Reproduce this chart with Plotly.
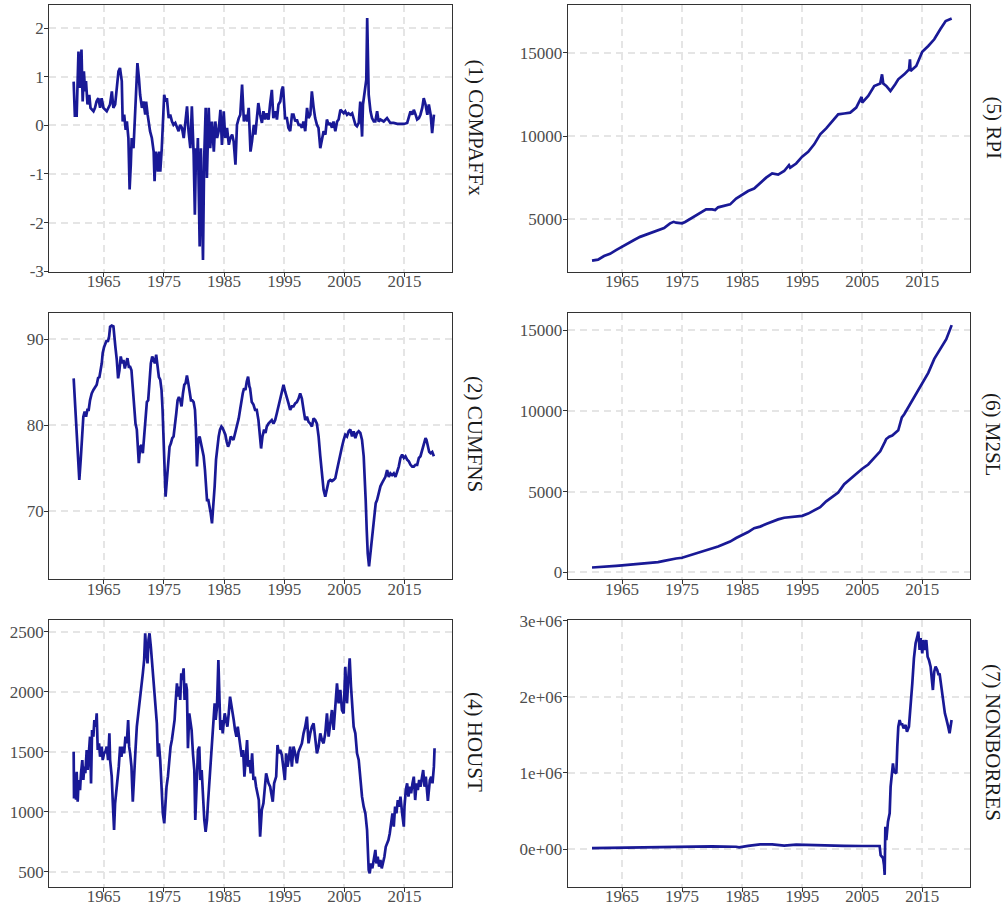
import plotly.graph_objects as go

# ---------------- data ----------------
compaffx_year = [1960.0, 1960.2, 1960.5, 1960.8, 1961.05, 1961.3, 1961.5, 1961.7, 1961.9, 1962.05, 1962.3, 1962.6, 1962.8,
                 1963.3, 1963.55, 1963.8, 1964.1, 1964.4, 1964.65, 1964.95, 1965.5, 1966.05, 1966.35, 1966.6, 1966.9,
                 1967.15, 1967.45, 1967.7, 1968.0, 1968.15, 1968.4, 1968.65, 1968.85, 1969.1, 1969.3, 1969.5, 1969.65,
                 1969.95, 1970.2, 1970.4, 1970.6, 1970.85, 1971.05, 1971.35, 1971.6, 1971.9, 1972.05, 1972.3, 1972.45,
                 1972.7, 1973.0, 1973.3, 1973.45, 1973.65, 1973.85, 1974.0, 1974.2, 1974.4, 1974.65, 1974.85, 1975.05,
                 1975.3, 1975.5, 1975.8, 1976.05, 1976.35, 1976.6, 1976.9, 1977.15, 1977.45, 1977.7, 1978.0, 1978.3,
                 1978.55, 1978.85, 1979.1, 1979.4, 1979.65, 1979.95, 1980.15, 1980.35, 1980.5, 1980.65, 1980.95, 1981.15,
                 1981.5, 1981.7, 1981.95, 1982.15, 1982.45, 1982.7, 1983.0, 1983.3, 1983.55, 1983.85, 1984.1, 1984.4,
                 1984.65, 1984.95, 1985.2, 1985.5, 1985.8, 1986.05, 1986.35, 1986.6, 1986.9, 1987.15, 1987.45, 1987.7,
                 1988.0, 1988.3, 1988.55, 1988.85, 1989.1, 1989.4, 1989.65, 1989.95, 1990.2, 1990.45, 1990.7, 1991.0,
                 1991.3, 1991.55, 1991.85, 1992.1, 1992.4, 1992.65, 1992.95, 1993.2, 1993.5, 1993.8, 1994.05, 1994.35,
                 1994.6, 1994.8, 1995.0, 1995.15, 1995.45, 1995.7, 1996.0, 1996.3, 1996.55, 1996.85, 1997.1, 1997.4,
                 1997.65, 1997.95, 1998.2, 1998.5, 1998.8, 1999.05, 1999.35, 1999.6, 1999.9, 2000.15, 2000.45, 2000.7,
                 2001.0, 2001.3, 2001.55, 2001.85, 2002.1, 2002.4, 2002.65, 2002.95, 2003.2, 2003.5, 2003.8, 2004.05,
                 2004.35, 2004.6, 2004.9, 2005.15, 2005.45, 2005.7, 2006.0, 2006.3, 2006.55, 2006.85, 2007.1, 2007.4,
                 2007.65, 2007.95, 2008.1, 2008.35, 2008.5, 2008.65, 2008.8, 2008.9, 2009.05, 2009.35, 2009.6, 2009.9,
                 2010.15, 2010.45, 2010.7, 2011.0, 2011.55, 2012.1, 2012.65, 2013.2, 2013.8, 2014.35, 2014.9, 2015.45,
                 2015.7, 2016.0, 2016.3, 2016.55, 2016.85, 2017.1, 2017.4, 2017.65, 2017.95, 2018.2, 2018.5, 2018.8,
                 2019.05, 2019.35, 2019.6, 2019.9]
compaffx_val = [0.90, 0.20, 0.20, 1.52, 0.77, 1.56, 0.49, 1.11, 0.70, 0.91, 0.43, 0.63, 0.36,
                0.29, 0.36, 0.49, 0.56, 0.36, 0.56, 0.36, 0.29, 0.43, 0.70, 0.36, 0.43,
                0.70, 1.11, 1.18, 0.91, 0.08, 0.22, -0.09, 0.08, -0.26, -1.32, -0.81, -0.26,
                -0.47, 0.22, 0.63, 1.28, 0.97, 0.63, 0.36, 0.49, 0.22, 0.49, 0.22, 0.08,
                -0.12, -0.26, -0.54, -1.15, -0.54, -0.67, -0.95, -0.54, -0.95, -0.47, 0.22, 0.63,
                0.49, 0.56, 0.15, 0.22, 0.08, 0.01, 0.05, -0.05, -0.12, 0.01, -0.05, -0.26,
                0.01, 0.39, -0.12, -0.47, 0.39, -0.60, -1.84, -0.47, -0.81, -0.26, -2.49, -0.47,
                -2.77, -0.67, 0.36, -1.08, 0.36, -0.47, 0.08, -0.54, 0.08, -0.26, -0.12, 0.32,
                -0.40, 0.29, -0.26, -0.05, -0.40, -0.26, -0.19, -0.33, -0.81, 0.01, 0.15, 0.22,
                0.84, 0.08, 0.22, 0.08, 0.36, -0.54, -0.33, 0.01, -0.19, 0.15, 0.46, 0.22,
                0.05, 0.29, 0.12, 0.25, 0.12, 0.43, 0.73, 0.15, 0.29, 0.12, 0.43, 0.49,
                0.73, 0.80, 0.29, 0.15, 0.15, -0.05, -0.12, 0.22, 0.22, 0.08, 0.12, 0.01,
                0.01, -0.05, 0.08, -0.12, 0.36, 0.15, 0.22, 0.70, 0.36, 0.15, 0.01, -0.05,
                -0.47, -0.26, -0.12, -0.19, 0.12, 0.01, 0.05, -0.05, 0.08, -0.12, 0.08, 0.12,
                0.32, 0.29, 0.25, 0.29, 0.22, 0.25, 0.22, 0.25, 0.12, 0.01, -0.02, 0.05,
                0.49, -0.23, 0.43, 0.70, 0.77, 0.94, 2.21, 0.97, 0.63, 0.29, 0.15, 0.08,
                0.08, 0.29, 0.08, 0.12, 0.08, 0.15, 0.05, 0.05, 0.03, 0.03, 0.03, 0.05,
                0.15, 0.29, 0.22, 0.32, 0.22, 0.12, 0.15, 0.22, 0.36, 0.56, 0.43, 0.22,
                0.43, 0.22, -0.16, 0.22]

cumfns_year = [1960.0, 1960.22, 1960.5, 1960.78, 1960.94, 1961.17, 1961.39, 1961.61, 1961.83, 1962.06, 1962.28,
               1962.5, 1962.72, 1963.0, 1963.28, 1963.56, 1963.83, 1964.06, 1964.28, 1964.67, 1964.83, 1965.06,
               1965.28, 1965.5, 1965.67, 1965.89, 1966.06, 1966.33, 1966.61, 1966.78, 1966.94, 1967.17, 1967.39,
               1967.61, 1967.83, 1968.06, 1968.28, 1968.5, 1968.72, 1968.94, 1969.17, 1969.39, 1969.61, 1969.83,
               1970.06, 1970.28, 1970.5, 1970.67, 1970.83, 1971.06, 1971.28, 1971.5, 1971.72, 1971.94, 1972.17,
               1972.39, 1972.61, 1972.83, 1973.06, 1973.28, 1973.5, 1973.72, 1973.94, 1974.17, 1974.39, 1974.61,
               1974.78, 1974.94, 1975.11, 1975.28, 1975.5, 1975.72, 1975.94, 1976.17, 1976.39, 1976.61, 1976.83,
               1977.06, 1977.28, 1977.5, 1977.72, 1977.94, 1978.17, 1978.39, 1978.61, 1978.83, 1979.06, 1979.28,
               1979.5, 1979.72, 1979.94, 1980.17, 1980.33, 1980.5, 1980.72, 1980.94, 1981.17, 1981.39, 1981.61,
               1981.83, 1982.0, 1982.17, 1982.39, 1982.61, 1982.78, 1983.0, 1983.22, 1983.44, 1983.67, 1983.89,
               1984.11, 1984.33, 1984.56, 1984.78, 1985.0, 1985.22, 1985.44, 1985.67, 1985.89, 1986.11, 1986.33,
               1986.56, 1986.78, 1987.0, 1987.22, 1987.44, 1987.67, 1987.89, 1988.11, 1988.33, 1988.56, 1988.78,
               1989.0, 1989.22, 1989.33, 1989.61, 1989.89, 1990.16, 1990.44, 1990.72, 1991.0, 1991.16, 1991.39,
               1991.66, 1991.89, 1992.11, 1992.39, 1992.66, 1992.94, 1993.22, 1993.5, 1993.78, 1994.05, 1994.33,
               1994.61, 1994.89, 1995.16, 1995.44, 1995.72, 1996.0, 1996.28, 1996.55, 1996.83, 1997.11, 1997.39,
               1997.66, 1997.94, 1998.22, 1998.5, 1998.78, 1999.05, 1999.33, 1999.61, 1999.89, 2000.16, 2000.44,
               2000.72, 2001.0, 2001.28, 2001.55, 2001.83, 2002.11, 2002.39, 2002.66, 2002.94, 2003.22, 2003.5,
               2003.78, 2004.05, 2004.33, 2004.61, 2004.89, 2005.16, 2005.44, 2005.72, 2006.0, 2006.28, 2006.55,
               2006.83, 2007.11, 2007.39, 2007.66, 2007.94, 2008.22, 2008.39, 2008.55, 2008.72, 2008.89, 2009.11,
               2009.33, 2009.55, 2009.78, 2010.0, 2010.22, 2010.44, 2010.72, 2011.0, 2011.28, 2011.55, 2011.83,
               2012.11, 2012.39, 2012.66, 2012.94, 2013.22, 2013.5, 2013.78, 2014.05, 2014.33, 2014.61, 2014.89,
               2015.16, 2015.44, 2015.72, 2016.0, 2016.28, 2016.55, 2016.83, 2017.11, 2017.39, 2017.66, 2017.94,
               2018.22, 2018.5, 2018.66, 2018.89, 2019.11, 2019.33, 2019.61, 2019.89]
cumfns_val = [85.45, 82.55, 78.3, 76.0, 73.65, 75.97, 78.7, 81.0, 81.6, 81.0, 81.8,
              81.8, 82.9, 83.7, 84.1, 84.5, 84.7, 85.5, 85.6, 87.2, 88.4, 89.1,
              89.5, 89.9, 89.7, 90.3, 91.45, 91.6, 91.5, 89.9, 89.1, 87.6, 85.45,
              86.4, 88.0, 87.2, 87.6, 86.6, 87.4, 87.8, 86.8, 86.8, 86.4, 84.1,
              81.8, 80.2, 79.5, 77.5, 75.6, 77.5, 77.7, 76.75, 79.1, 81.4, 82.7,
              82.9, 85.3, 87.2, 88.0, 87.6, 87.2, 88.2, 86.8, 85.6, 85.3, 84.1,
              81.8, 78.3, 73.7, 71.7, 73.65, 76.0, 77.5, 77.9, 78.5, 78.7, 79.85,
              81.4, 82.9, 83.3, 82.9, 82.2, 83.7, 84.7, 84.9, 85.8, 84.9, 83.7,
              82.9, 82.9, 82.7, 81.8, 79.5, 75.2, 78.3, 78.7, 77.9, 77.5, 76.4,
              74.8, 73.3, 71.3, 71.3, 70.6, 69.8, 68.6, 70.6, 72.9, 76.0, 77.5,
              78.7, 79.5, 79.85, 79.65, 79.3, 78.9, 78.1, 77.5, 77.9, 78.7, 78.5,
              78.3, 78.9, 79.5, 79.85, 80.8, 81.8, 82.9, 83.7, 84.3, 84.1, 85.1,
              85.65, 84.5, 84.3, 82.7, 82.4, 81.8, 81.8, 80.6, 78.7, 77.3, 78.7,
              79.5, 79.1, 79.85, 80.2, 80.4, 80.6, 80.2, 80.6, 81.4, 82.2, 82.9,
              83.5, 84.7, 83.9, 83.3, 82.55, 81.8, 82.2, 82.2, 82.55, 82.7, 83.1,
              83.7, 83.1, 81.8, 80.6, 81.0, 80.4, 80.2, 79.85, 80.8, 80.6, 80.2,
              78.7, 76.4, 74.0, 72.5, 71.7, 72.5, 73.5, 73.65, 73.5, 73.65, 73.85,
              74.8, 75.8, 76.4, 77.5, 78.3, 78.9, 78.7, 79.3, 79.5, 78.7, 79.3,
              78.5, 79.1, 79.3, 79.1, 78.3, 76.4, 74.4, 71.3, 67.85, 65.1, 63.6,
              65.1, 66.3, 67.85, 69.8, 70.95, 71.3, 72.1, 72.9, 73.3, 73.65, 74.0,
              74.8, 74.0, 74.4, 74.2, 74.4, 74.0, 74.6, 75.2, 76.2, 76.6, 76.2,
              76.4, 76.0, 75.8, 75.4, 75.2, 75.2, 75.4, 75.4, 76.2, 76.4, 77.1,
              77.9, 78.5, 78.3, 77.7, 76.9, 76.75, 76.9, 76.4]

houst_year = [1960.0, 1960.06, 1960.22, 1960.39, 1960.5, 1960.67, 1960.83, 1961.06, 1961.22, 1961.44, 1961.61,
              1961.78, 1961.94, 1962.17, 1962.33, 1962.5, 1962.72, 1962.89, 1963.06, 1963.28, 1963.44, 1963.67,
              1963.83, 1964.0, 1964.22, 1964.39, 1964.67, 1964.83, 1965.06, 1965.28, 1965.5, 1965.72, 1965.94,
              1966.06, 1966.33, 1966.5, 1966.72, 1966.89, 1967.06, 1967.28, 1967.5, 1967.72, 1967.94, 1968.17,
              1968.39, 1968.61, 1968.83, 1969.06, 1969.22, 1969.39, 1969.61, 1969.83, 1970.06, 1970.28, 1970.5,
              1970.78, 1971.06, 1971.28, 1971.5, 1971.72, 1971.89, 1972.06, 1972.28, 1972.44, 1972.61, 1972.83,
              1973.0, 1973.17, 1973.39, 1973.61, 1973.83, 1974.0, 1974.17, 1974.39, 1974.61, 1974.83, 1975.06,
              1975.22, 1975.44, 1975.67, 1975.89, 1976.11, 1976.33, 1976.56, 1976.78, 1976.94, 1977.17, 1977.33,
              1977.5, 1977.72, 1977.89, 1978.06, 1978.28, 1978.44, 1978.67, 1978.83, 1979.0, 1979.22, 1979.39,
              1979.61, 1979.83, 1980.06, 1980.22, 1980.5, 1980.67, 1980.89, 1981.06, 1981.28, 1981.5, 1981.72,
              1981.94, 1982.17, 1982.33, 1982.56, 1982.72, 1982.94, 1983.11, 1983.28, 1983.44, 1983.61, 1983.83,
              1984.06, 1984.22, 1984.39, 1984.61, 1984.78, 1984.94, 1985.11, 1985.33, 1985.56, 1985.78, 1986.0,
              1986.17, 1986.39, 1986.61, 1986.83, 1987.06, 1987.28, 1987.5, 1987.72, 1987.94, 1988.17, 1988.39,
              1988.61, 1988.83, 1989.0, 1989.22, 1989.44, 1989.67, 1989.89, 1990.11, 1990.33, 1990.56, 1990.78,
              1991.0, 1991.16, 1991.28, 1991.55, 1992.0, 1992.4, 1992.67, 1993.1, 1993.33, 1993.67, 1993.89,
              1994.11, 1994.33, 1994.61, 1994.89, 1995.11, 1995.33, 1995.55, 1995.78, 1996.0, 1996.28, 1996.55,
              1996.83, 1997.11, 1997.39, 1997.67, 1997.94, 1998.22, 1998.5, 1998.78, 1999.05, 1999.33, 1999.61,
              1999.89, 2000.16, 2000.44, 2000.72, 2001.0, 2001.28, 2001.55, 2001.83, 2002.11, 2002.39, 2002.67,
              2002.94, 2003.22, 2003.5, 2003.78, 2004.05, 2004.33, 2004.61, 2004.89, 2005.16, 2005.44, 2005.72,
              2005.89, 2006.11, 2006.33, 2006.55, 2006.83, 2007.11, 2007.39, 2007.66, 2007.94, 2008.22, 2008.5,
              2008.78, 2009.05, 2009.22, 2009.44, 2009.66, 2009.89, 2010.16, 2010.33, 2010.55, 2010.78, 2011.0,
              2011.22, 2011.44, 2011.66, 2011.89, 2012.11, 2012.33, 2012.55, 2012.78, 2013.0, 2013.22, 2013.44,
              2013.66, 2013.89, 2014.11, 2014.33, 2014.61, 2014.89, 2015.0, 2015.22, 2015.44, 2015.66, 2015.89,
              2016.11, 2016.33, 2016.55, 2016.78, 2017.0, 2017.22, 2017.44, 2017.66, 2017.89, 2018.11, 2018.33,
              2018.55, 2018.89, 2019.0, 2019.22, 2019.44, 2019.66, 2019.89, 2020.0]
houst_val = [1500, 1110, 1320, 1100, 1333, 1083, 1264, 1180, 1320, 1430, 1264,
             1375, 1320, 1514, 1347, 1486, 1625, 1236, 1680, 1625, 1764, 1708,
             1820, 1514, 1570, 1458, 1542, 1430, 1486, 1500, 1542, 1430, 1653,
             1430, 1292, 1083, 847, 1070, 1153, 1320, 1375, 1542, 1458, 1542,
             1486, 1625, 1570, 1764, 1542, 1486, 1375, 1083, 1347, 1514, 1708,
             1820, 1958, 2042, 2153, 2264, 2486, 2347, 2236, 2431, 2486, 2375,
             2264, 2125, 2042, 1875, 1736, 1458, 1570, 1430, 1153, 986, 903,
             1042, 1208, 1292, 1430, 1542, 1597, 1708, 1764, 1903, 2069, 1958,
             2042, 1931, 2153, 2097, 2194, 1931, 2069, 2014, 1528, 1819, 1736,
             1680, 1486, 1347, 931, 1319, 1514, 1542, 1264, 1347, 1125, 931,
             833, 931, 1070, 1264, 1403, 1542, 1680, 1819, 1903, 1764, 1875,
             2264, 1819, 1680, 1764, 1653, 1736, 1819, 1764, 1708, 1819, 1958,
             1903, 1847, 1764, 1680, 1625, 1708, 1597, 1542, 1458, 1514, 1292,
             1486, 1597, 1375, 1430, 1319, 1486, 1264, 1292, 1208, 1153, 1097,
             792, 986, 1014, 1069, 1319, 1236, 1208, 1083, 1236, 1292, 1556,
             1486, 1514, 1472, 1319, 1264, 1486, 1375, 1444, 1542, 1375, 1542,
             1486, 1403, 1500, 1542, 1569, 1653, 1708, 1792, 1569, 1653, 1708,
             1736, 1625, 1486, 1542, 1653, 1597, 1569, 1653, 1819, 1625, 1764,
             1847, 1681, 1875, 2069, 1903, 2014, 1847, 1819, 2208, 1903, 2153,
             2278, 2042, 1875, 1708, 1653, 1486, 1431, 1264, 1125, 1042, 986,
             847, 514, 486, 569, 528, 597, 681, 569, 625, 542, 597,
             528, 569, 625, 708, 736, 764, 819, 931, 986, 875, 1042,
             986, 1097, 1042, 1125, 986, 875, 1042, 1181, 1236, 1125, 1208,
             1153, 1236, 1292, 1097, 1236, 1181, 1264, 1208, 1292, 1347, 1208,
             1292, 1090, 1181, 1264, 1292, 1236, 1375, 1528]

rpi_year = [1960.0, 1960.5, 1961.0, 1962.0, 1963.0, 1964.0, 1965.0, 1966.0, 1967.0, 1968.0, 1969.0, 1970.0,
            1971.0, 1972.0, 1973.0, 1973.6, 1974.0, 1975.0, 1975.5, 1976.0, 1977.0, 1978.0, 1979.0, 1980.0,
            1980.5, 1981.0, 1982.0, 1983.0, 1984.0, 1985.0, 1986.0, 1987.0, 1988.0, 1989.0, 1990.0, 1991.0,
            1992.0, 1992.8, 1993.0, 1994.0, 1995.0, 1996.0, 1997.0, 1998.0, 1999.0, 2000.0, 2001.0, 2002.0,
            2003.0, 2004.0, 2004.9, 2005.0, 2006.0, 2007.0, 2008.0, 2008.3, 2008.5, 2009.0, 2009.7, 2010.5,
            2011.0, 2012.0, 2012.8, 2012.95, 2013.05, 2014.0, 2015.0, 2016.0, 2017.0, 2018.0, 2018.9, 2019.9]
rpi_val = [2520, 2540, 2580, 2800, 2930, 3150, 3360, 3600, 3760, 3950, 4080, 4200,
           4330, 4480, 4760, 4850, 4800, 4760, 4840, 4950, 5120, 5380, 5600, 5600,
           5560, 5720, 5820, 5900, 6250, 6500, 6700, 6850, 7180, 7500, 7750, 7680,
           7900, 8250, 8100, 8350, 8760, 9050, 9500, 10100, 10460, 10900, 11300, 11350,
           11400, 11700, 12350, 12000, 12400, 13000, 13150, 13700, 13150, 13000, 12700, 13100,
           13400, 13700, 14000, 14600, 13900, 14200, 15050, 15400, 15800, 16400, 16900, 17050]

m2sl_year = [1960, 1961, 1962, 1963, 1964, 1965, 1966, 1967, 1968, 1969, 1970, 1971, 1972, 1973, 1974,
             1975, 1976, 1977, 1978, 1979, 1980, 1981, 1982, 1983, 1984, 1985, 1986, 1987, 1988, 1989,
             1990, 1991, 1992, 1993, 1994, 1995, 1996, 1997, 1998, 1999, 2000, 2001, 2002, 2003, 2004,
             2005, 2006, 2007, 2008, 2008.8, 2009, 2009.5, 2010, 2011, 2011.6, 2012, 2013, 2014, 2015,
             2016, 2017, 2018, 2019, 2019.9]
m2sl_val = [298, 312, 335, 365, 392, 424, 459, 480, 525, 567, 589, 628, 710, 802, 856,
            902, 1016, 1152, 1270, 1366, 1474, 1600, 1756, 1906, 2124, 2307, 2494, 2735, 2832, 2993,
            3157, 3280, 3380, 3410, 3480, 3500, 3640, 3820, 4040, 4400, 4650, 4940, 5460, 5790, 6070,
            6420, 6680, 7070, 7500, 8100, 8260, 8400, 8480, 8800, 9600, 9800, 10450, 11040, 11690,
            12360, 13230, 13860, 14450, 15320]

nonborres_year = [1960.0, 1965.0, 1970.0, 1975.0, 1980.0, 1984.0, 1984.5, 1986.0, 1988.0, 1990.0, 1991.0,
                  1992.0, 1994.0, 1996.0, 1998.0, 2000.0, 2002.0, 2005.0, 2007.9, 2008.07, 2008.46, 2008.63,
                  2008.74, 2008.85, 2009.01, 2009.29, 2009.57, 2009.73, 2009.96, 2010.12, 2010.29, 2010.68,
                  2010.84, 2011.01, 2011.23, 2011.45, 2011.62, 2011.9, 2012.23, 2012.45, 2012.78, 2013.06,
                  2013.34, 2013.61, 2013.89, 2014.17, 2014.34, 2014.56, 2014.72, 2015.0, 2015.17, 2015.44,
                  2015.67, 2015.89, 2016.11, 2016.39, 2016.61, 2016.77, 2016.99, 2017.22, 2017.49, 2017.72,
                  2017.88, 2018.16, 2018.44, 2018.77, 2018.99, 2019.16, 2019.32, 2019.55, 2019.71, 2019.88]
nonborres_val = [13000, 18000, 22000, 30000, 36000, 30000, 22000, 42000, 61000, 60000, 52000,
                 44000, 57000, 52000, 44000, 39000, 42000, 40000, 40000, -80000, -120000, -210000,
                 -340000, 293000, 118000, 360000, 470000, 820000, 1080000, 1125000, 1015000, 995000,
                 1345000, 1607000, 1695000, 1630000, 1650000, 1585000, 1630000, 1540000, 1608000, 1870000,
                 2177000, 2505000, 2703000, 2790000, 2856000, 2615000, 2770000, 2571000, 2746000, 2615000,
                 2746000, 2527000, 2484000, 2396000, 2221000, 2089000, 2330000, 2396000, 2352000, 2286000,
                 2308000, 2133000, 2002000, 1783000, 1717000, 1630000, 1608000, 1520000, 1651000, 1695000]

panel_labels = ["(1) COMPAFFx", "(5) RPI", "(2) CUMFNS", "(6) M2SL", "(4) HOUST", "(7) NONBORRES"]
x_tick_vals = [1965, 1975, 1985, 1995, 2005, 2015]
x_tick_text = ["1965", "1975", "1985", "1995", "2005", "2015"]

compaffx_ticks = [-3, -2, -1, 0, 1, 2]
compaffx_tick_text = ["-3", "-2", "-1", "0", "1", "2"]
rpi_ticks = [5000, 10000, 15000]
cumfns_ticks = [70, 80, 90]
m2sl_ticks = [0, 5000, 10000, 15000]
houst_ticks = [500, 1000, 1500, 2000, 2500]
nonborres_ticks = [0, 1000000, 2000000, 3000000]
nonborres_tick_text = ["0e+00", "1e+06", "2e+06", "3e+06"]

# ---------------- figure ----------------
W, H = 1006, 909
LINE = "rgba(0,0,139,0.9)"
FONT = "Liberation Serif, Times New Roman, serif"

xl = [49.3 / W, 452.3 / W]
xr = [567.7 / W, 970.0 / W]
rows = [[1 - 271.7 / H, 1 - 5.3 / H], [1 - 579.3 / H, 1 - 313.3 / H], [1 - 886.7 / H, 1 - 620.0 / H]]

series = [
    (compaffx_year, compaffx_val, xl, rows[0], [-3.01, 2.47], compaffx_ticks, compaffx_tick_text),
    (rpi_year, rpi_val, xr, rows[0], [1860, 17840], rpi_ticks, [str(v) for v in rpi_ticks]),
    (cumfns_year, cumfns_val, xl, rows[1], [62.09, 93.02], cumfns_ticks, [str(v) for v in cumfns_ticks]),
    (m2sl_year, m2sl_val, xr, rows[1], [-434, 16053], m2sl_ticks, [str(v) for v in m2sl_ticks]),
    (houst_year, houst_val, xl, rows[2], [375, 2597], houst_ticks, [str(v) for v in houst_ticks]),
    (nonborres_year, nonborres_val, xr, rows[2], [-495000, 3009000], nonborres_ticks, nonborres_tick_text),
]

label_pos = [(475, 127.5), (993, 127.5), (475, 434), (993, 434), (475, 742), (993, 742)]

fig = go.Figure()
layout = dict(
    template="none",
    width=W, height=H, margin=dict(l=0, r=0, t=0, b=0, pad=0), autosize=False,
    paper_bgcolor="white", plot_bgcolor="white", showlegend=False,
    font=dict(family=FONT, color="#4D4D4D"), annotations=[],
)

axis_common = dict(
    automargin=False,
    showline=True, linecolor="#333333", linewidth=1.1, mirror=True,
    ticks="outside", ticklen=4, tickwidth=1, tickcolor="#333333",
    showgrid=True, gridcolor="#E5E5E5", gridwidth=1.6, griddash="7px,5px",
    zeroline=False, tickfont=dict(family=FONT, size=17, color="#4D4D4D"),
)

for i, (xs, ys, xd, yd, yr, yt, ytt) in enumerate(series):
    n = i + 1
    xa = "x" if n == 1 else f"x{n}"
    ya = "y" if n == 1 else f"y{n}"
    fig.add_trace(go.Scatter(x=xs, y=ys, mode="lines", xaxis=xa, yaxis=ya,
                             line=dict(color=LINE, width=2.7), hoverinfo="skip"))
    layout["xaxis" if n == 1 else f"xaxis{n}"] = dict(
        axis_common, domain=xd, range=[1955.95, 2022.95], anchor=ya,
        tickmode="array", tickvals=x_tick_vals, ticktext=x_tick_text, ticklabelstandoff=-10)
    layout["yaxis" if n == 1 else f"yaxis{n}"] = dict(
        axis_common, domain=yd, range=yr, anchor=xa,
        tickmode="array", tickvals=yt, ticktext=ytt, ticklabelstandoff=-3)
    lx, ly = label_pos[i]
    layout["annotations"].append(dict(
        text=panel_labels[i], xref="paper", yref="paper", x=lx / W, y=1 - ly / H,
        xanchor="center", yanchor="middle", showarrow=False, textangle=90,
        font=dict(family=FONT, size=21, color="#1A1A1A")))

fig.update_layout(**layout)
fig.write_html("out.html", config={"displayModeBar": False},
               post_script="document.body.style.margin='0';document.body.style.overflow='hidden';")
